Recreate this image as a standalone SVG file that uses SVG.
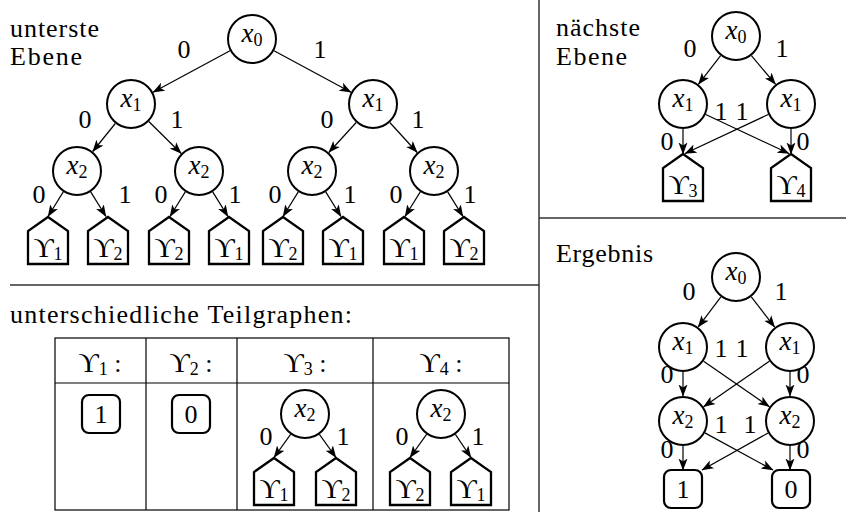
<svg xmlns="http://www.w3.org/2000/svg" xmlns:xlink="http://www.w3.org/1999/xlink" width="846" height="512" viewBox="0 0 846 512">
<style>
text{font-family:"Liberation Serif",serif}
.t{font-size:26px}
.lb{font-size:26px;text-anchor:middle}
.m{font-size:26px;text-anchor:middle}
.i{font-style:italic;font-size:27px}
.s{font-size:18px}
.u{font-size:28px}
.nd{fill:#fff;stroke:#000;stroke-width:2}
.lf{fill:#fff;stroke:#000;stroke-width:2.3;stroke-linejoin:miter}
.bx{fill:#fff;stroke:#000;stroke-width:2.2}
.e{stroke:#000;stroke-width:1.2;fill:none;marker-end:url(#a)}
.sep{stroke:#333;stroke-width:1.5}
.tb{stroke:#000;stroke-width:1.2;fill:none}
</style>
<defs>
<marker id="a" viewBox="0 0 12 10" refX="11.5" refY="5" markerWidth="12" markerHeight="10" orient="auto" markerUnits="userSpaceOnUse">
<path d="M0,0.5 L12,5 L0,9.5 L3,5 Z" fill="#000"/>
</marker>
<path id="leaf" d="M0,0 L20,14 L20,47 L-20,47 L-20,14 Z"/>
</defs>
<g font-family="Liberation Serif" fill="#000">

<g id="separators">
<line class="sep" x1="10" y1="285" x2="539" y2="285"/>
<line class="sep" x1="539" y1="0" x2="539" y2="512"/>
<line class="sep" x1="539" y1="218" x2="846" y2="218"/>
</g>

<g id="titles">
<text class="t" x="10" y="37" textLength="89">unterste</text>
<text class="t" x="10" y="65" textLength="72">Ebene</text>
<text class="t" x="556" y="36" textLength="84">nächste</text>
<text class="t" x="556" y="65" textLength="71">Ebene</text>
<text class="t" x="556" y="262" textLength="97">Ergebnis</text>
<text class="t" x="10" y="323" textLength="342">unterschiedliche Teilgraphen:</text>
</g>

<g id="connectors">
<line class="e" x1="230" y1="50.8" x2="153" y2="92.2"/>
<line class="e" x1="274" y1="50.8" x2="351" y2="92.2"/>
<line class="e" x1="115.3" y1="123.5" x2="92.7" y2="151.5"/>
<line class="e" x1="148.8" y1="121.5" x2="181.2" y2="153.5"/>
<line class="e" x1="356.2" y1="122.5" x2="328.8" y2="152.5"/>
<line class="e" x1="389.8" y1="122.5" x2="417.2" y2="152.5"/>
<line class="e" x1="63.3" y1="191.9" x2="48" y2="216.5"/>
<line class="e" x1="90.7" y1="191.9" x2="106" y2="216.5"/>
<line class="e" x1="185.3" y1="191.9" x2="170" y2="216.5"/>
<line class="e" x1="212.7" y1="191.9" x2="228" y2="216.5"/>
<line class="e" x1="298.3" y1="191.9" x2="283" y2="216.5"/>
<line class="e" x1="325.7" y1="191.9" x2="341" y2="216.5"/>
<line class="e" x1="420.3" y1="191.9" x2="405" y2="216.5"/>
<line class="e" x1="447.7" y1="191.9" x2="463" y2="216.5"/>
<line class="e" x1="290.6" y1="434.4" x2="274" y2="457.5"/>
<line class="e" x1="319.4" y1="434.4" x2="336" y2="457.5"/>
<line class="e" x1="426.6" y1="434.4" x2="410" y2="457.5"/>
<line class="e" x1="455.4" y1="434.4" x2="471" y2="457.5"/>
<line class="e" x1="720.6" y1="55.7" x2="698.4" y2="84.3"/>
<line class="e" x1="751.4" y1="55.7" x2="775.6" y2="84.3"/>
<line class="e" x1="683" y1="129" x2="683" y2="154"/>
<line class="e" x1="791" y1="129" x2="791" y2="154"/>
<line class="e" x1="705.7" y1="114.5" x2="789" y2="153.5"/>
<line class="e" x1="768.3" y1="114.5" x2="685" y2="153.5"/>
<line class="e" x1="720.9" y1="296.9" x2="698.1" y2="327.1"/>
<line class="e" x1="751.3" y1="296.8" x2="774.7" y2="327.2"/>
<line class="e" x1="683" y1="372" x2="683" y2="396"/>
<line class="e" x1="790" y1="372" x2="790" y2="396"/>
<line class="e" x1="703.6" y1="361.2" x2="769.4" y2="406.8"/>
<line class="e" x1="769.4" y1="361.2" x2="703.6" y2="406.8"/>
<line class="e" x1="683" y1="446" x2="683" y2="470"/>
<line class="e" x1="790" y1="446" x2="790" y2="470"/>
<line class="e" x1="704.9" y1="432.9" x2="773" y2="470"/>
<line class="e" x1="768.1" y1="432.9" x2="702" y2="470"/>
</g>

<g id="edge-labels">
<text class="lb" x="184" y="58">0</text>
<text class="lb" x="320" y="58">1</text>
<text class="lb" x="85" y="128">0</text>
<text class="lb" x="177" y="128">1</text>
<text class="lb" x="327" y="128">0</text>
<text class="lb" x="418" y="128">1</text>
<text class="lb" x="39" y="203">0</text>
<text class="lb" x="125" y="203">1</text>
<text class="lb" x="161" y="203">0</text>
<text class="lb" x="235" y="203">1</text>
<text class="lb" x="275" y="203">0</text>
<text class="lb" x="350" y="203">1</text>
<text class="lb" x="396" y="203">0</text>
<text class="lb" x="470" y="203">1</text>
<text class="lb" x="266" y="445">0</text>
<text class="lb" x="343" y="445">1</text>
<text class="lb" x="402" y="445">0</text>
<text class="lb" x="478" y="445">1</text>
<text class="lb" x="690" y="57">0</text>
<text class="lb" x="782" y="57">1</text>
<text class="lb" x="721" y="120">1</text>
<text class="lb" x="742" y="120">1</text>
<text class="lb" x="667" y="150">0</text>
<text class="lb" x="803" y="150">0</text>
<text class="lb" x="689" y="300">0</text>
<text class="lb" x="781" y="300">1</text>
<text class="lb" x="721" y="357">1</text>
<text class="lb" x="742" y="357">1</text>
<text class="lb" x="667" y="383">0</text>
<text class="lb" x="803" y="383">0</text>
<text class="lb" x="721" y="433">1</text>
<text class="lb" x="750" y="433">1</text>
<text class="lb" x="667" y="458">0</text>
<text class="lb" x="803" y="458">0</text>
</g>

<g id="tl-x0"><circle class="nd" cx="252" cy="39" r="24"/><text class="m" x="252" y="42"><tspan class="i">x</tspan><tspan class="s" dy="4">0</tspan></text></g>
<g id="tl-x1a"><circle class="nd" cx="131" cy="104" r="24"/><text class="m" x="131" y="107"><tspan class="i">x</tspan><tspan class="s" dy="4">1</tspan></text></g>
<g id="tl-x1b"><circle class="nd" cx="373" cy="104" r="24"/><text class="m" x="373" y="107"><tspan class="i">x</tspan><tspan class="s" dy="4">1</tspan></text></g>
<g id="tl-x2a"><circle class="nd" cx="77" cy="171" r="24"/><text class="m" x="77" y="174"><tspan class="i">x</tspan><tspan class="s" dy="4">2</tspan></text></g>
<g id="tl-x2b"><circle class="nd" cx="199" cy="171" r="24"/><text class="m" x="199" y="174"><tspan class="i">x</tspan><tspan class="s" dy="4">2</tspan></text></g>
<g id="tl-x2c"><circle class="nd" cx="312" cy="171" r="24"/><text class="m" x="312" y="174"><tspan class="i">x</tspan><tspan class="s" dy="4">2</tspan></text></g>
<g id="tl-x2d"><circle class="nd" cx="434" cy="171" r="24"/><text class="m" x="434" y="174"><tspan class="i">x</tspan><tspan class="s" dy="4">2</tspan></text></g>

<g id="tl-l1"><use xlink:href="#leaf" class="lf" x="48" y="217"/><text class="m" x="48" y="257"><tspan class="u">ϒ</tspan><tspan class="s" dy="3">1</tspan></text></g>
<g id="tl-l2"><use xlink:href="#leaf" class="lf" x="108" y="217"/><text class="m" x="108" y="257"><tspan class="u">ϒ</tspan><tspan class="s" dy="3">2</tspan></text></g>
<g id="tl-l3"><use xlink:href="#leaf" class="lf" x="169" y="217"/><text class="m" x="169" y="257"><tspan class="u">ϒ</tspan><tspan class="s" dy="3">2</tspan></text></g>
<g id="tl-l4"><use xlink:href="#leaf" class="lf" x="229" y="217"/><text class="m" x="229" y="257"><tspan class="u">ϒ</tspan><tspan class="s" dy="3">1</tspan></text></g>
<g id="tl-l5"><use xlink:href="#leaf" class="lf" x="283" y="217"/><text class="m" x="283" y="257"><tspan class="u">ϒ</tspan><tspan class="s" dy="3">2</tspan></text></g>
<g id="tl-l6"><use xlink:href="#leaf" class="lf" x="343" y="217"/><text class="m" x="343" y="257"><tspan class="u">ϒ</tspan><tspan class="s" dy="3">1</tspan></text></g>
<g id="tl-l7"><use xlink:href="#leaf" class="lf" x="404" y="217"/><text class="m" x="404" y="257"><tspan class="u">ϒ</tspan><tspan class="s" dy="3">1</tspan></text></g>
<g id="tl-l8"><use xlink:href="#leaf" class="lf" x="464" y="217"/><text class="m" x="464" y="257"><tspan class="u">ϒ</tspan><tspan class="s" dy="3">2</tspan></text></g>

<g id="table">
<rect class="tb" x="55" y="338" width="454" height="172"/>
<line class="tb" x1="55" y1="383" x2="509" y2="383"/>
<line class="tb" x1="146" y1="338" x2="146" y2="510"/>
<line class="tb" x1="237" y1="338" x2="237" y2="510"/>
<line class="tb" x1="373" y1="338" x2="373" y2="510"/>
<text class="m" x="100" y="372"><tspan class="u">ϒ</tspan><tspan class="s" dy="3">1</tspan><tspan dy="-3"> :</tspan></text>
<text class="m" x="191" y="372"><tspan class="u">ϒ</tspan><tspan class="s" dy="3">2</tspan><tspan dy="-3"> :</tspan></text>
<text class="m" x="305" y="372"><tspan class="u">ϒ</tspan><tspan class="s" dy="3">3</tspan><tspan dy="-3"> :</tspan></text>
<text class="m" x="441" y="372"><tspan class="u">ϒ</tspan><tspan class="s" dy="3">4</tspan><tspan dy="-3"> :</tspan></text>
</g>
<g id="t-b1"><rect class="bx" x="82" y="395" width="38" height="38" rx="7"/><text class="m" x="101" y="423">1</text></g>
<g id="t-b0"><rect class="bx" x="172" y="395" width="38" height="38" rx="7"/><text class="m" x="191" y="423">0</text></g>
<g id="t3-x2"><circle class="nd" cx="305" cy="414" r="24"/><text class="m" x="305" y="417"><tspan class="i">x</tspan><tspan class="s" dy="4">2</tspan></text></g>
<g id="t3-l1"><use xlink:href="#leaf" class="lf" x="274" y="458"/><text class="m" x="274" y="498"><tspan class="u">ϒ</tspan><tspan class="s" dy="3">1</tspan></text></g>
<g id="t3-l2"><use xlink:href="#leaf" class="lf" x="336" y="458"/><text class="m" x="336" y="498"><tspan class="u">ϒ</tspan><tspan class="s" dy="3">2</tspan></text></g>
<g id="t4-x2"><circle class="nd" cx="441" cy="414" r="24"/><text class="m" x="441" y="417"><tspan class="i">x</tspan><tspan class="s" dy="4">2</tspan></text></g>
<g id="t4-l1"><use xlink:href="#leaf" class="lf" x="410" y="458"/><text class="m" x="410" y="498"><tspan class="u">ϒ</tspan><tspan class="s" dy="3">2</tspan></text></g>
<g id="t4-l2"><use xlink:href="#leaf" class="lf" x="471" y="458"/><text class="m" x="471" y="498"><tspan class="u">ϒ</tspan><tspan class="s" dy="3">1</tspan></text></g>

<g id="rt-x0"><circle class="nd" cx="736" cy="36" r="24"/><text class="m" x="736" y="39"><tspan class="i">x</tspan><tspan class="s" dy="4">0</tspan></text></g>
<g id="rt-x1a"><circle class="nd" cx="683" cy="104" r="24"/><text class="m" x="683" y="107"><tspan class="i">x</tspan><tspan class="s" dy="4">1</tspan></text></g>
<g id="rt-x1b"><circle class="nd" cx="791" cy="104" r="24"/><text class="m" x="791" y="107"><tspan class="i">x</tspan><tspan class="s" dy="4">1</tspan></text></g>
<g id="rt-l3"><use xlink:href="#leaf" class="lf" x="683" y="154"/><text class="m" x="683" y="194"><tspan class="u">ϒ</tspan><tspan class="s" dy="3">3</tspan></text></g>
<g id="rt-l4"><use xlink:href="#leaf" class="lf" x="791" y="154"/><text class="m" x="791" y="194"><tspan class="u">ϒ</tspan><tspan class="s" dy="3">4</tspan></text></g>

<g id="rb-x0"><circle class="nd" cx="736" cy="277" r="24"/><text class="m" x="736" y="280"><tspan class="i">x</tspan><tspan class="s" dy="4">0</tspan></text></g>
<g id="rb-x1a"><circle class="nd" cx="683" cy="347" r="24"/><text class="m" x="683" y="350"><tspan class="i">x</tspan><tspan class="s" dy="4">1</tspan></text></g>
<g id="rb-x1b"><circle class="nd" cx="790" cy="347" r="24"/><text class="m" x="790" y="350"><tspan class="i">x</tspan><tspan class="s" dy="4">1</tspan></text></g>
<g id="rb-x2a"><circle class="nd" cx="683" cy="421" r="24"/><text class="m" x="683" y="424"><tspan class="i">x</tspan><tspan class="s" dy="4">2</tspan></text></g>
<g id="rb-x2b"><circle class="nd" cx="790" cy="421" r="24"/><text class="m" x="790" y="424"><tspan class="i">x</tspan><tspan class="s" dy="4">2</tspan></text></g>
<g id="rb-b1"><rect class="bx" x="664" y="470" width="38" height="38" rx="7"/><text class="m" x="683" y="498">1</text></g>
<g id="rb-b0"><rect class="bx" x="772" y="470" width="38" height="38" rx="7"/><text class="m" x="791" y="498">0</text></g>
</g>
</svg>
